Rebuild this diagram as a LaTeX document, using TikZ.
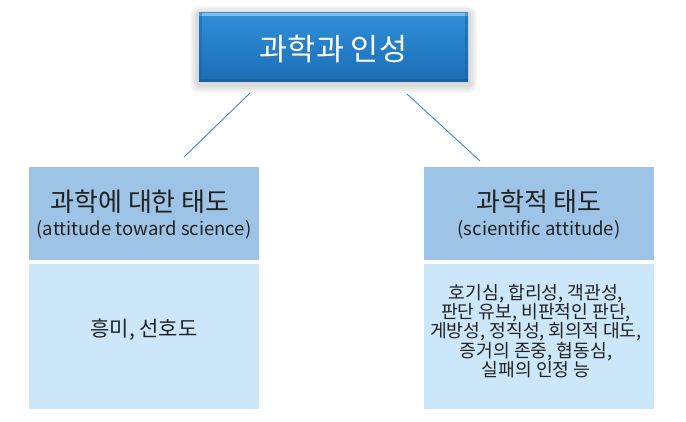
\documentclass[tikz,border=0pt]{standalone}
\usepackage{fontspec}
\setmainfont{Noto Sans CJK KR}
\definecolor{topA}{HTML}{2F8FD8}
\definecolor{topB}{HTML}{1B6DB5}
\definecolor{hdr}{HTML}{9DC3E6}
\definecolor{body}{HTML}{CCE7F9}
\definecolor{lnk}{HTML}{3A8AD0}
\definecolor{txt}{HTML}{222222}
\tikzset{
  hdrbox/.style={fill=hdr, draw=none, minimum width=230pt, minimum height=93pt, inner sep=0pt},
  bodybox/.style={fill=body, draw=none, minimum width=230pt, minimum height=145pt, inner sep=0pt},
  ttl/.style={text=txt, font=\fontsize{26}{30}\selectfont, inner sep=0pt},
  sub/.style={text=txt, font=\fontsize{18.5}{22}\selectfont, inner sep=0pt},
  bodytxt/.style={text=txt, font=\fontsize{18.2}{20.7}\selectfont, align=center, inner sep=0pt},
  link/.style={draw=lnk, line width=0.9pt}
}
\begin{document}
\begin{tikzpicture}[x=1pt,y=-1pt]
\useasboundingbox[fill=white] (0,0) rectangle (686,422);
% glow shadow of top box
\foreach \d in {9,7,5,3}{
  \fill[black, opacity=0.035, rounded corners=\d pt] (199-\d,13-\d+2) rectangle (468+\d,82+\d+2);
}
\node[minimum width=269pt, minimum height=69pt, inner sep=0pt,
      top color=topA, bottom color=topB, draw=none] (top) at (333.5,47.5) {};
\fill[topA!60!white] (top.north west) rectangle ([yshift=-3pt]top.north east);
\fill[topB!80!black, opacity=0.5] (top.south west) rectangle ([yshift=3pt]top.south east);
\fill[topB!85!black, opacity=0.4] (top.north west) rectangle ([xshift=3pt]top.south west);
\fill[topB!85!black, opacity=0.4] ([xshift=-3pt]top.north east) rectangle (top.south east);
\node[text=white, font=\fontsize{30.5}{35}\selectfont, inner sep=0pt] (toptxt) at (333.5,49) {과학과 인성};

% left column
\node[hdrbox] (lh) at (144,213.5) {};
\node[bodybox] (lb) at (144,336.5) {};
\node[ttl] (lht) at (140,202) {과학에 대한 태도};
\node[sub] (lhs) at (144,230) {(attitude toward science)};
\node[bodytxt, font=\fontsize{21}{24}\selectfont] (lbt) at (144,330) {흥미, 선호도};

% right column
\node[hdrbox] (rh) at (539,213.5) {};
\node[bodybox] (rb) at (539,336.5) {};
\node[ttl] (rht) at (539,202) {과학적 태도};
\node[sub] (rhs) at (539,230) {(scientific attitude)};
\node[bodytxt] (rbt) at (536,331) {호기심, 합리성, 객관성,\\[-1.4pt]판단 유보, 비판적인 판단,\\[-1.4pt]게방성, 정직성, 회의적 대도,\\[-1.4pt]증거의 존중, 협동심,\\[-1.4pt]실패의 인정 능};

% connectors
\coordinate (l1) at (250,93);
\coordinate (l2) at (184,157);
\coordinate (r1) at (407,94);
\coordinate (r2) at (480,161);
\draw[link] (l1) -- (l2);
\draw[link] (r1) -- (r2);
\end{tikzpicture}
\end{document}
